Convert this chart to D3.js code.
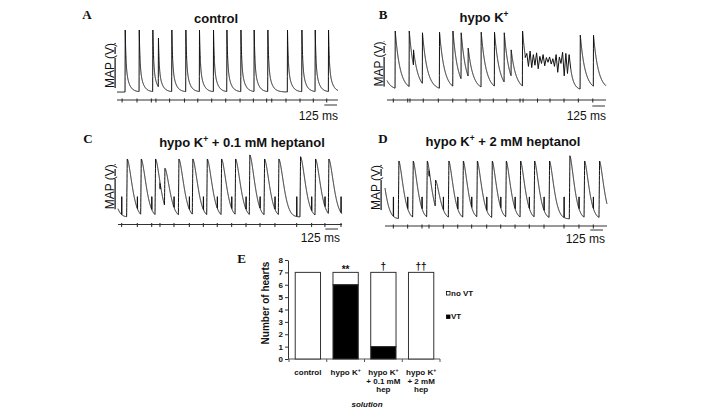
<!DOCTYPE html>
<html><head><meta charset="utf-8">
<script src="https://cdn.jsdelivr.net/npm/d3@7"></script>
<style>body{margin:0;background:#fff}svg{display:block}</style>
</head><body>
<svg id="c" width="708" height="415"></svg>
<script>
// ---------------- DATA ----------------
// Panel A: control — beat onset times (ms), relative peak amplitudes, stimulus times (ms)
const beatTimesA = [79, 217, 351, 406, 538, 676, 810, 948, 1080, 1218, 1348, 1483, 1676, 1818, 1949, 2080];
const beatAmpsA  = [1, 1, 1, 0.87, 1, 1, 1, 1, 1, 1, 1, 1, 1, 1, 1, 1];
const stimA      = [50, 197, 338, 383, 518, 664, 795, 932, 1070, 1211, 1342, 1473, 1523, 1663, 1801, 1932, 2064];
// Panel B: hypo K+
const beatTimesB = [-90, 79, 217, 259, 347, 515, 647, 728, 797, 925, 1056, 1152, 1220, 1332, 1900, 2030];
const beatAmpsB  = [1, 1, 1, 0.68, 0.97, 0.98, 1, 0.97, 0.71, 0.98, 0.98, 0.97, 0.68, 1, 0.93, 0.93];
const stimB      = [62, 204, 226, 357, 505, 647, 778, 915, 1046, 1178, 1309, 1339, 1481, 1604, 1742, 1883, 2025];
// Ventricular tachycardia episode in B: start (ms), sample spacing (ms), relative MAP values
const vtStartB = 1360, vtStepB = 16;
const vtValuesB = [0.55, 0.62, 0.40, 0.66, 0.38, 0.60, 0.42, 0.63, 0.36, 0.57, 0.45, 0.60, 0.41, 0.55, 0.47,
                   0.56, 0.44, 0.53, 0.40, 0.60, 0.30, 0.56, 0.45, 0.64, 0.24, 0.62, 0.28, 0.60, 0.36];
// Panel C: hypo K+ + 0.1 mM heptanol
const beatTimesC = [-106, 85, 223, 364, 456, 594, 731, 873, 1014, 1152, 1292, 1437, 1578, 1791, 1939, 2070];
const beatAmpsC  = [1, 1, 1, 1, 0.84, 1, 1, 1, 1, 1, 1.07, 1, 1, 1.04, 1, 1];
const stimC      = [36, 190, 332, 413, 551, 702, 840, 977, 1119, 1260, 1398, 1545, 1759, 1906, 2037, 2195];
// Panel D: hypo K+ + 2 mM heptanol
const beatTimesD = [-50, 131, 272, 410, 492, 623, 765, 903, 1050, 1188, 1329, 1467, 1614, 1814, 1959, 2106];
const beatAmpsD  = [1, 1, 1, 1, 0.67, 1, 1, 1, 1, 1, 1, 1, 1, 1.09, 1, 1];
const stimD      = [82, 223, 364, 433, 574, 716, 853, 1001, 1139, 1280, 1420, 1565, 1762, 1909, 2050];
const traceDurations = [2175, 2155, 2205, 2185];   // ms
const scaleBarMs = 125;
const panelTitles = ["control", "hypo K+", "hypo K+ + 0.1 mM heptanol", "hypo K+ + 2 mM heptanol"];
const panelLetters = ["A", "B", "C", "D"];

// Panel E: bar chart
const categories = ["control", "hypo K+", "hypo K+ 0.1 mM hep", "hypo K+ 2 mM hep"];
const categoryLabelLines = [["control"], ["hypo K+"], ["hypo K+", "+ 0.1 mM", "hep"], ["hypo K+", "+ 2 mM", "hep"]];
const vtCounts   = [0, 6, 1, 0];
const noVtCounts = [7, 1, 6, 7];
const sigMarks   = ["", "**", "\u2020", "\u2020\u2020"];
const yTickValues = [0, 1, 2, 3, 4, 5, 6, 7, 8];
const legendLabels = ["no VT", "VT"];

// ---------------- DRAWING ----------------
const svg = d3.select("#c");
const SANS = "'Liberation Sans', Arial, Helvetica, sans-serif";
const SERIF = "'Liberation Serif', 'Times New Roman', serif";
const INK = "#111";

function kText(sel, str, size) {
  const parts = str.split("K+");
  const shift = size * 0.38;
  parts.forEach((p, i) => {
    const t = sel.append("tspan").text(p + (i < parts.length - 1 ? "K" : ""));
    if (i > 0) t.attr("dy", shift);
    if (i < parts.length - 1) {
      sel.append("tspan").attr("font-size", size * 0.65).attr("dy", -shift).text("+");
    }
  });
}

const shapes = {
  fast: t => t < 0 ? 0 : t < 2 ? t / 2 : 0.55 * Math.exp(-(t - 2) / 7) + 0.45 * Math.exp(-(t - 2) / 32),
  mid:  t => t < 0 ? 0 : t < 2 ? t / 2 : Math.exp(-(t - 2) / 48),
  slowC: t => t < 0 ? 0 : t < 6 ? t / 6 : Math.exp(-Math.pow((t - 6) / 66, 1.6)),
  slowD: t => t < 0 ? 0 : t < 6 ? t / 6 : Math.exp(-Math.pow((t - 6) / 60, 1.5))
};

const panels = [
  {beats: beatTimesA, amps: beatAmpsA, stims: stimA, shape: "fast", spikeH: 0,
   L: {x0: 117, x1: 338, base: 92, top: 30, stimY: 100, barY: 105, barEnd: 337, msX: 338, msY: 120,
       title: [216, 22.5], letter: [87, 19], map: [113.5, 65.5]}},
  {beats: beatTimesB, amps: beatAmpsB, stims: stimB, shape: "mid", spikeH: 0, vt: true,
   L: {x0: 387, x1: 606, base: 90, top: 31, stimY: 100, barY: 106, barEnd: 605, msX: 606, msY: 120,
       title: [484, 21.7], letter: [383, 19], map: [382.5, 64]}},
  {beats: beatTimesC, amps: beatAmpsC, stims: stimC, shape: "slowC", spikeH: 0.35, spikes: true,
   L: {x0: 118, x1: 342, base: 217, top: 159, stimY: 224.5, barY: 229, barEnd: 338, msX: 340, msY: 242,
       title: [242, 147.3], letter: [88, 143], map: [113.5, 186.7]}},
  {beats: beatTimesD, amps: beatAmpsD, stims: stimD, shape: "slowD", spikeH: 0.38, spikes: true,
   L: {x0: 385, x1: 607, base: 219, top: 161, stimY: 226, barY: 230, barEnd: 603, msX: 605, msY: 243,
       title: [503, 146], letter: [383, 143], map: [379.5, 187.5]}}
];

panels.forEach((p, pi) => {
  const L = p.L;
  const dur = traceDurations[pi];
  const x = d3.scaleLinear().domain([0, dur]).range([L.x0, L.x1]);
  const y = d3.scaleLinear().domain([0, 1]).range([L.base, L.top]);
  const fn = shapes[p.shape];
  const vtEnd = p.vt ? vtStartB + vtStepB * (vtValuesB.length - 1) : null;
  const lastVt = p.vt ? vtValuesB[vtValuesB.length - 1] : 0;

  function value(t) {
    let v = 0;
    for (let i = 0; i < p.beats.length; i++) v = Math.max(v, p.amps[i] * fn(t - p.beats[i]));
    if (p.vt && t > vtEnd) v = Math.max(v, lastVt * Math.exp(-(t - vtEnd) / 30));
    if (p.spikes) for (const s of p.stims) {
      const d = t - s;
      if (d >= 0 && d < 2.5) v = v < p.spikeH ? p.spikeH : v - 0.1;
    }
    return v;
  }
  const pts = [];
  for (let t = 0; t <= dur; t += 0.5) {
    if (p.vt && t >= vtStartB && t <= vtEnd) continue;
    pts.push([t, value(t)]);
  }
  if (p.vt) vtValuesB.forEach((v, i) => pts.push([vtStartB + i * vtStepB, v]));
  pts.sort((a, b) => a[0] - b[0]);

  const line = d3.line().x(d => x(d[0])).y(d => y(d[1]));
  svg.append("path").attr("d", line(pts)).attr("fill", "none")
    .attr("stroke", INK).attr("stroke-width", 1).attr("stroke-linejoin", "round");

  // stimulus line with ticks
  svg.append("line").attr("x1", L.x0).attr("x2", L.x1).attr("y1", L.stimY).attr("y2", L.stimY)
    .attr("stroke", "#333").attr("stroke-width", 1);
  svg.selectAll(null).data(p.stims).enter().append("line")
    .attr("x1", d => x(d)).attr("x2", d => x(d))
    .attr("y1", L.stimY - 1.5).attr("y2", L.stimY + 2.5)
    .attr("stroke", "#222").attr("stroke-width", 1);

  // scale bar
  const barLen = x(scaleBarMs) - x(0);
  svg.append("line").attr("x1", L.barEnd - barLen).attr("x2", L.barEnd)
    .attr("y1", L.barY).attr("y2", L.barY).attr("stroke", "#333").attr("stroke-width", 1);
  svg.append("text").attr("x", L.msX).attr("y", L.msY).attr("text-anchor", "end")
    .attr("font-family", SANS).attr("font-size", 12).attr("fill", INK).text(scaleBarMs + " ms");

  // title
  const tt = svg.append("text").attr("x", L.title[0]).attr("y", L.title[1]).attr("text-anchor", "middle")
    .attr("font-family", SANS).attr("font-size", 13).attr("font-weight", "bold").attr("fill", INK);
  kText(tt, panelTitles[pi], 13);

  // letter
  svg.append("text").attr("x", L.letter[0]).attr("y", L.letter[1]).attr("text-anchor", "middle")
    .attr("font-family", SERIF).attr("font-size", 13).attr("font-weight", "bold").attr("fill", INK)
    .text(panelLetters[pi]);

  // y label
  svg.append("text").attr("transform", `translate(${L.map[0]},${L.map[1]}) rotate(-90)`)
    .attr("text-anchor", "middle").attr("font-family", SANS).attr("font-size", 12)
    .attr("text-decoration", "underline").attr("fill", INK).text("MAP (V)");
});

// ---------------- PANEL E ----------------
const ex = d3.scaleBand().domain(categories).range([289, 440]).paddingInner(0.33).paddingOuter(0.165);
const ey = d3.scaleLinear().domain([0, 8]).range([359, 260]);
const gE = svg.append("g");

const yAxis = d3.axisLeft(ey).tickValues(yTickValues).tickSize(3).tickSizeOuter(0).tickPadding(2);
const ya = gE.append("g").attr("transform", "translate(288,0)").call(yAxis);
ya.selectAll("text").attr("font-family", SANS).attr("font-size", 8).attr("font-weight", "bold").attr("fill", INK);
ya.selectAll("line").attr("stroke", "#333");
ya.select(".domain").attr("stroke", "#333");

// x axis
gE.append("line").attr("x1", 288).attr("x2", 440).attr("y1", 359).attr("y2", 359).attr("stroke", "#555");
const bounds = [289].concat(categories.slice(1).map(c => ex(c) - ex.step() * ex.paddingInner() / 2), [440]);
gE.selectAll(null).data(bounds).enter().append("line")
  .attr("x1", d => d).attr("x2", d => d).attr("y1", 359).attr("y2", 362).attr("stroke", "#555");

// bars
categories.forEach((c, i) => {
  gE.append("rect").attr("x", ex(c)).attr("width", ex.bandwidth())
    .attr("y", ey(vtCounts[i] + noVtCounts[i])).attr("height", ey(vtCounts[i]) - ey(vtCounts[i] + noVtCounts[i]))
    .attr("fill", "#fff").attr("stroke", "#333").attr("stroke-width", 1);
  if (vtCounts[i] > 0) {
    gE.append("rect").attr("x", ex(c)).attr("width", ex.bandwidth())
      .attr("y", ey(vtCounts[i])).attr("height", ey(0) - ey(vtCounts[i]))
      .attr("fill", "#000").attr("stroke", "#333").attr("stroke-width", 1);
  }
  if (sigMarks[i]) {
    gE.append("text").attr("x", ex(c) + ex.bandwidth() / 2).attr("y", sigMarks[i] === "**" ? 273 : 270)
      .attr("text-anchor", "middle").attr("font-family", SANS).attr("font-size", 10)
      .attr("font-weight", "bold").attr("fill", INK).text(sigMarks[i]);
  }
  categoryLabelLines[i].forEach((ln, j) => {
    const t = gE.append("text").attr("x", ex(c) + ex.bandwidth() / 2).attr("y", 375 + j * 8.7)
      .attr("text-anchor", "middle").attr("font-family", SANS).attr("font-size", 8)
      .attr("font-weight", "bold").attr("fill", INK);
    kText(t, ln, 8);
  });
});

gE.append("text").attr("transform", "translate(268.5,303) rotate(-90)").attr("text-anchor", "middle")
  .attr("font-family", SANS).attr("font-size", 10).attr("font-weight", "bold").attr("fill", INK)
  .text("Number of hearts");
gE.append("text").attr("x", 367).attr("y", 407).attr("text-anchor", "middle")
  .attr("font-family", SANS).attr("font-size", 8).attr("font-weight", "bold").attr("font-style", "italic")
  .attr("fill", INK).text("solution");
gE.append("text").attr("x", 241.5).attr("y", 262.5).attr("text-anchor", "middle")
  .attr("font-family", SERIF).attr("font-size", 13).attr("font-weight", "bold").attr("fill", INK).text("E");

// legend
legendLabels.forEach((lab, i) => {
  const yy = 291.5 + i * 23.5;
  gE.append("rect").attr("x", 446.5).attr("y", yy).attr("width", 3.5).attr("height", 3.5)
    .attr("fill", lab === "VT" ? "#000" : "#fff").attr("stroke", "#000").attr("stroke-width", 0.8);
  gE.append("text").attr("x", 451).attr("y", yy + 4.2).attr("font-family", SANS).attr("font-size", 8)
    .attr("font-weight", "bold").attr("fill", INK).text(lab);
});
</script>
</body></html>
